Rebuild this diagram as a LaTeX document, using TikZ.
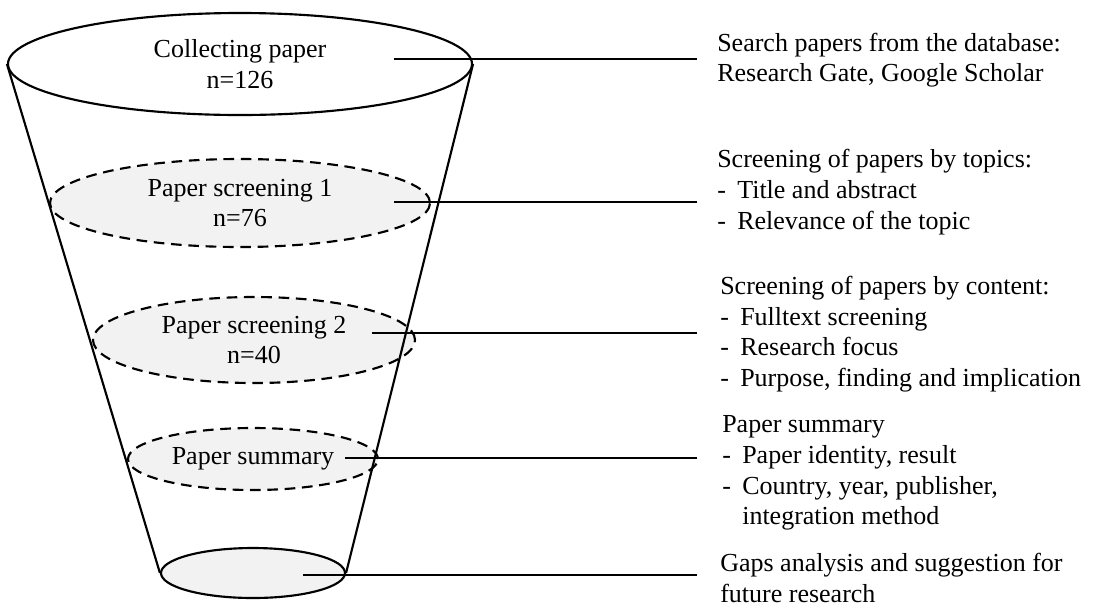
\documentclass[tikz,border=0pt]{standalone}
\usepackage{fontspec}
\setmainfont{Liberation Serif}
\usetikzlibrary{shapes.geometric}
\tikzset{ring/.style={ellipse,draw,line width=1.6pt,inner sep=0pt,align=center,fill=white}}
\tikzset{stage/.style={ring,fill=black!5,dash pattern=on 8pt off 5pt}}
\tikzset{link/.style={draw,line width=1.6pt}}
\tikzset{note/.style={anchor=west,align=left,inner sep=0pt}}
\newcommand{\bul}{\makebox[15pt][l]{-}}

\begin{document}
\begin{tikzpicture}[x=0.75pt,y=-0.75pt,font=\fontsize{19.5}{23}\selectfont]
    \useasboundingbox (0,0) rectangle (1094,608);
    % Draw the rings of the funnel
    \node[ring,minimum width=348pt,minimum height=76.5pt] (top) at (240,64) {Collecting paper\\n=126};
    \node[stage,minimum width=285pt,minimum height=66pt] (s1) at (240,203) {Paper screening 1\\n=76};
    \node[stage,minimum width=241.5pt,minimum height=64.5pt] (s2) at (254,340) {Paper screening 2\\n=40};
    \node[stage,minimum width=187.5pt,minimum height=46.5pt] (s3) at (253,459) {Paper summary};
    \node[ring,fill=black!5,minimum width=138pt,minimum height=37.5pt] (base) at (253,573) {};

    % Sides of the funnel
    \path[link] (top.west) -- (base.west);
    \path[link] (top.east) -- (base.east);

    % Connect every ring to its notes
    \foreach \name/\from/\y in {top/394/59, s1/394/202, s2/372/333, s3/345/458, base/303/575}
    {
        \coordinate (\name-in) at (\from,\y);
        \coordinate (\name-out) at (697,\y);
        \path[link] (\name-in) -- (\name-out);
    }

    \node[note] (n1) at (717,60) {Search papers from the database:\\Research Gate, Google Scholar};
    \node[note] (n2) at (717,192) {Screening of papers by topics:\\\bul Title and abstract\\\bul Relevance of the topic};
    \node[note] (n3) at (720,334) {Screening of papers by content:\\\bul Fulltext screening\\\bul Research focus\\\bul Purpose, finding and implication};
    \node[note] (n4) at (722,473) {Paper summary\\\bul Paper identity, result\\\bul Country, year, publisher,\\\hspace*{15pt}integration method};
    \node[note] (n5) at (720,578) {Gaps analysis and suggestion for\\future research};
\end{tikzpicture}
\end{document}
